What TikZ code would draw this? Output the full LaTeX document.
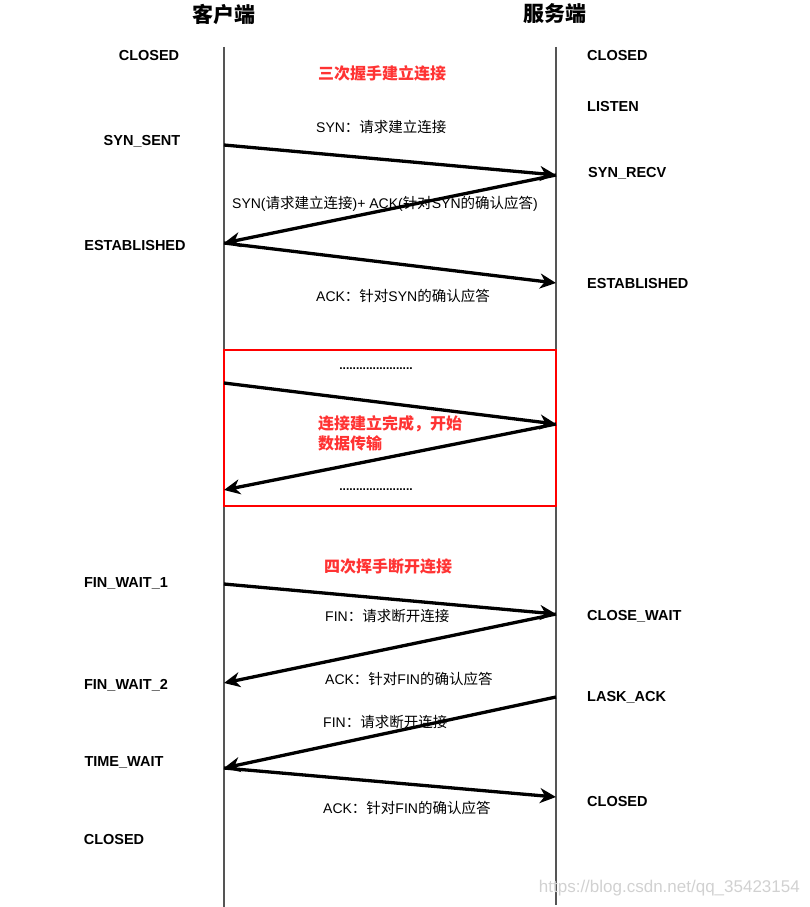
\documentclass[tikz,border=0pt]{standalone}
\usepackage{fontspec}
\setmainfont{Noto Sans CJK SC}
\newfontfamily\latf{Liberation Sans}
\newcommand{\lt}[1]{{\latf\fontsize{14}{16}\selectfont #1}}
\usetikzlibrary{arrows.meta}
\definecolor{hred}{HTML}{FF3333}
\definecolor{lifegray}{HTML}{555555}
\begin{document}
\begin{tikzpicture}[x=1pt,y=-1pt,
  state/.style={font=\latf\bfseries\fontsize{14.5}{16}\selectfont, inner sep=0},
  rstate/.style={state, anchor=west},
  msg/.style={font=\fontsize{14.5}{16}\selectfont, inner sep=0, anchor=west},
  head/.style={font=\bfseries\fontsize{16}{20}\selectfont, text=hred, inner sep=0, anchor=west, align=left},
  title/.style={font=\bfseries\fontsize{21}{24}\selectfont, inner sep=0},
  life/.style={line width=2pt, draw=lifegray},
  arr/.style={line width=3.3pt, -{Stealth[length=16pt,width=15pt,inset=5pt]}},
  dotsl/.style={font=\latf\bfseries\fontsize{12}{14}\selectfont, inner sep=0}]
\useasboundingbox (0,0) rectangle (809,907);

% titles
\node[title] (tc) at (224,14) {客户端};
\node[title] (ts) at (555,14) {服务端};

% lifelines
\coordinate (ctop) at (224,47);
\coordinate (cbot) at (224,907);
\coordinate (stop) at (556,47);
\coordinate (sbot) at (556,905);
\draw[life] (ctop) -- (cbot);
\draw[life] (stop) -- (sbot);

% red box
\draw[draw=red, line width=1.5pt] (224,350) rectangle (556,506);

% arrow anchor points
\coordinate (c1) at (224,145);
\coordinate (s1) at (556,175);
\coordinate (c2) at (224,243);
\coordinate (s2) at (556,283);
\coordinate (c3) at (224,383);
\coordinate (s3) at (556,424);
\coordinate (c4) at (224,490);
\coordinate (c5) at (224,584);
\coordinate (s5) at (556,614);
\coordinate (c6) at (224,683);
\coordinate (s7) at (556,697);
\coordinate (c7) at (224,768);
\coordinate (s8) at (556,797);

\draw[arr] (c1) -- (s1);
\draw[arr] (s1) -- (c2);
\draw[arr] (c2) -- (s2);
\draw[arr] (c3) -- (s3);
\draw[arr] (s3) -- (c4);
\draw[arr] (c5) -- (s5);
\draw[arr] (s5) -- (c6);
\draw[arr] (s7) -- (c7);
\draw[arr] (c7) -- (s8);

% client states
\node[state] (cst1) at (149,56) {CLOSED};
\node[state] (cst2) at (142,141) {SYN\_SENT};
\node[state] (cst3) at (135,246) {ESTABLISHED};
\node[state] (cst4) at (126,583) {FIN\_WAIT\_1};
\node[state] (cst5) at (126,685) {FIN\_WAIT\_2};
\node[state] (cst6) at (124,762) {TIME\_WAIT};
\node[state] (cst7) at (114,839) {CLOSED};

% server states
\node[rstate] (sst1) at (587,56) {CLOSED};
\node[rstate] (sst2) at (587,107) {LISTEN};
\node[rstate] (sst3) at (588,173) {SYN\_RECV};
\node[rstate] (sst4) at (587,284) {ESTABLISHED};
\node[rstate] (sst5) at (587,616) {CLOSE\_WAIT};
\node[rstate] (sst6) at (587,697) {LASK\_ACK};
\node[rstate] (sst7) at (587,801) {CLOSED};

% headings
\node[head] (h1) at (318,73) {三次握手建立连接};
\node[head] (h2) at (318,433) {连接建立完成，开始\\数据传输};
\node[head] (h3) at (324,566) {四次挥手断开连接};

% message labels
\node[msg] (m1) at (316,127) {\lt{SYN}：请求建立连接};
\node[msg] (m2) at (232,204) {\lt{SYN(}请求建立连接\lt{)+ ACK(}针对\lt{SYN}的确认应答\lt{)}};
\node[msg] (m3) at (316,296) {\lt{ACK}：针对\lt{SYN}的确认应答};
\node[msg] (m4) at (325,616) {\lt{FIN}：请求断开连接};
\node[msg] (m5) at (325,679) {\lt{ACK}：针对\lt{FIN}的确认应答};
\node[msg] (m6) at (323,722) {\lt{FIN}：请求断开连接};
\node[msg] (m7) at (323,808) {\lt{ACK}：针对\lt{FIN}的确认应答};

% dots
\node[dotsl] (d1) at (376,369) {......................};
\node[dotsl] (d2) at (376,490) {......................};

% watermark
\node[font=\latf\fontsize{17}{20}\selectfont, text=black!18, anchor=east, inner sep=0] (wm) at (800,888) {https://blog.csdn.net/qq\_35423154};
\end{tikzpicture}
\end{document}
